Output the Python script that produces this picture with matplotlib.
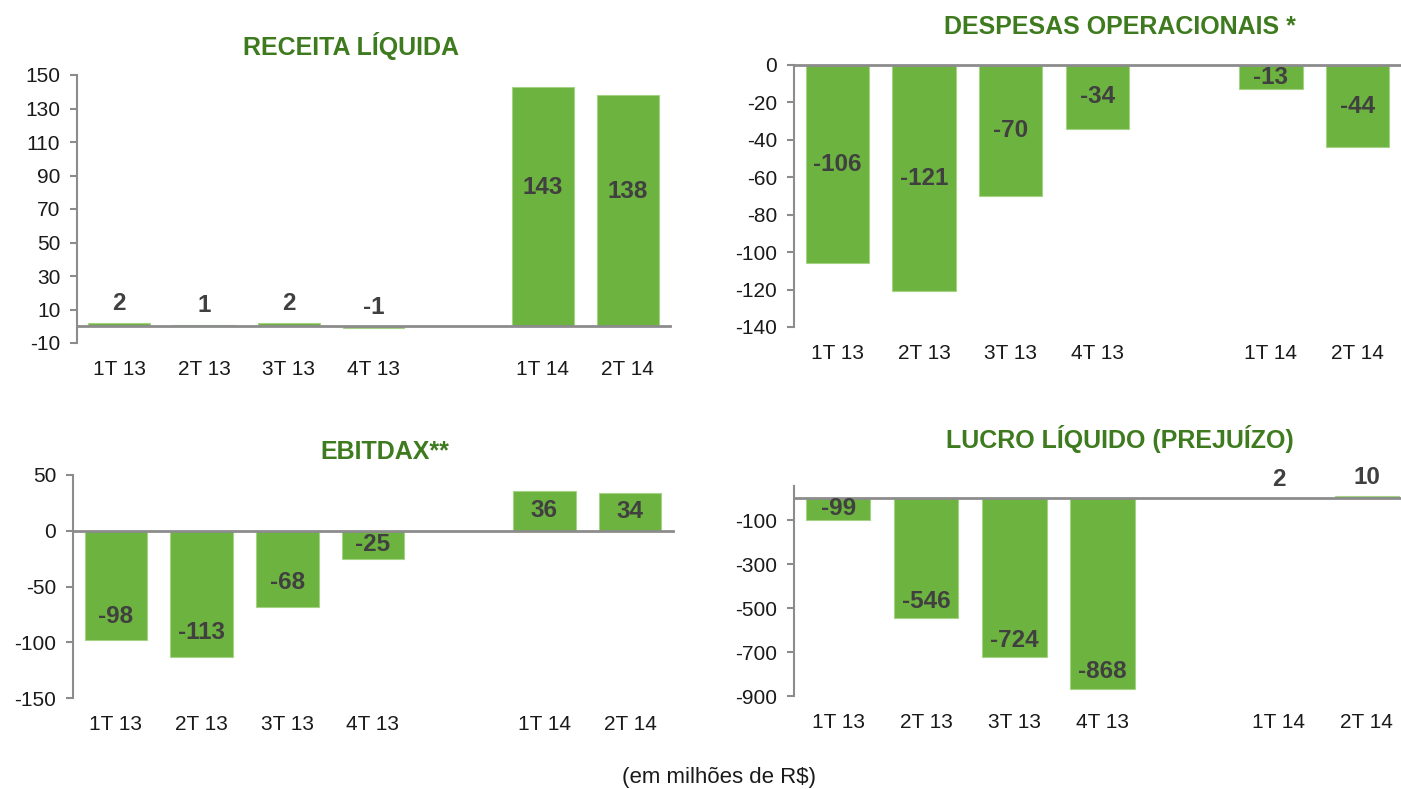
import numpy as np
import matplotlib
matplotlib.use("Agg")
import matplotlib.pyplot as plt

quarters = ["1T 13", "2T 13", "3T 13", "4T 13", "", "1T 14", "2T 14"]
receita = [2, 1, 2, -1, np.nan, 143, 138]
despesas = [-106, -121, -70, -34, np.nan, -13, -44]
ebitdax = [-98, -113, -68, -25, np.nan, 36, 34]
lucro = [-99, -546, -724, -868, np.nan, 2, 10]

BAR = "#6db33f"
EDGE = "#a3d383"
TITLE = "#3e7b1f"
LABEL = "#404040"
AXIS = "#8c8c8c"
TEXT = "#1a1a1a"

W, H = 1401, 789
plt.rcParams["font.family"] = ["Liberation Sans", "DejaVu Sans"]
plt.rcParams["axes.unicode_minus"] = False

fig = plt.figure(figsize=(W / 100, H / 100), dpi=100)


def panel(box, values, ylim, yticks, place):
    # box in pixels: left, top, right, bottom
    left, top, right, bottom = box
    ax = fig.add_axes([left / W, 1 - bottom / H, (right - left) / W, (bottom - top) / H])
    ax.patch.set_visible(False)
    x = np.arange(len(quarters))
    ax.bar(x, values, width=0.73, color=BAR, edgecolor=EDGE, linewidth=0.8, zorder=2)
    ax.axhline(0, color=AXIS, lw=2, zorder=3, clip_on=False)
    ax.set_xlim(-0.5, len(quarters) - 0.5)
    ax.set_ylim(*ylim)
    ax.set_yticks(yticks)
    ax.set_xticks(x)
    ax.set_xticklabels(quarters)
    for s in ["top", "right", "bottom"]:
        ax.spines[s].set_visible(False)
    ax.spines["left"].set_color(AXIS)
    ax.spines["left"].set_linewidth(1.5)
    ax.tick_params(axis="x", length=0, pad=12, labelsize=15, labelcolor=TEXT)
    ax.tick_params(axis="y", length=5, width=1.5, color=AXIS, pad=7, labelsize=15, labelcolor=TEXT)
    for xi, v in zip(x, values):
        if np.isnan(v):
            continue
        y, dy = place(v)
        ax.annotate(f"{v:.0f}", (xi, y), xytext=(0, dy), textcoords="offset pixels",
                    ha="center", va="center", fontsize=17.5, fontweight="bold",
                    color=LABEL, zorder=4)
    return ax


panel((77, 75, 670, 343), receita, (-10, 150), np.arange(-10, 151, 20),
      lambda v: (max(v, 0), 19) if abs(v) < 20 else (v / 2, 19))
panel((794, 65, 1401, 327), despesas, (-140, 0), np.arange(-140, 1, 20),
      lambda v: (v / 2, 0))
panel((73, 475, 673, 698), ebitdax, (-150, 50), np.arange(-150, 51, 50),
      lambda v: (v, 24) if v < -30 else (v / 2, 0))
panel((794, 486, 1411, 696), lucro, (-900, 55), np.arange(-900, -99, 200),
      lambda v: (v, 18) if v > 0 else ((v, 17) if v < -200 else (v / 2, 0)))

titles = [("RECEITA LÍQUIDA", 351, 46), ("DESPESAS OPERACIONAIS *", 1120, 27),
          ("EBITDAX**", 385, 452), ("LUCRO LÍQUIDO (PREJUÍZO)", 1120, 439)]
for t, tx, ty in titles:
    fig.text(tx / W, 1 - ty / H, t, ha="center", va="center", fontsize=18,
             fontweight="bold", color=TITLE)

fig.text(719 / W, 1 - 777 / H, "(em milhões de R$)", ha="center", va="center",
         fontsize=16, color=TEXT)

fig.savefig("out.png", dpi=100)
